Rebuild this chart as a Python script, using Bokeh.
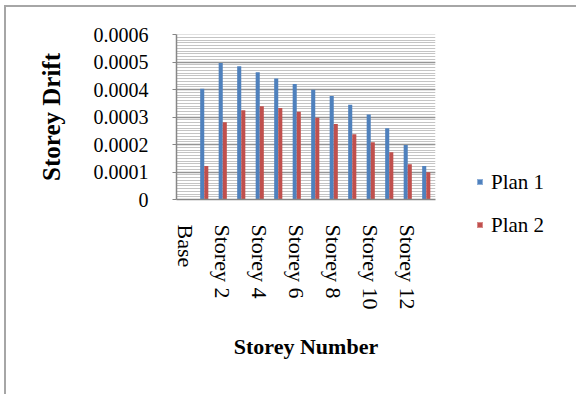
from bokeh.plotting import figure
from bokeh.layouts import row
from bokeh.models import FixedTicker, CustomJSTickFormatter, ColumnDataSource, Div
from bokeh.embed import file_html
from bokeh.resources import INLINE

# Storey drift per level for the two plans
categories = ["Base"] + [f"Storey {i}" for i in range(1, 14)]
plan1 = [0, 0.000403, 0.000496, 0.000485, 0.000463, 0.000440, 0.000420,
         0.000399, 0.000376, 0.000345, 0.000309, 0.000259, 0.000198, 0.000122]
plan2 = [0, 0.000122, 0.000281, 0.000325, 0.000339, 0.000333, 0.000319,
         0.000297, 0.000275, 0.000237, 0.000208, 0.000172, 0.000128, 0.000099]
series_names = ["Plan 1", "Plan 2"]
y_ticks = [0, 0.0001, 0.0002, 0.0003, 0.0004, 0.0005, 0.0006]
x_label_every = 2

SERIF = "Liberation Serif"
COLORS = ["#4F81BD", "#C0504D"]
EDGES = ["#8fb0d9", "#d88c8a"]
AXIS_GREY = "#868686"

centers = [i + 0.5 for i in range(len(categories))]
bar_w = 0.22
src = ColumnDataSource(dict(
    x1=[c - bar_w / 2 for c in centers],
    x2=[c + bar_w / 2 for c in centers],
    plan1=plan1, plan2=plan2,
))

p = figure(width=454, height=388, x_range=(0, len(categories)),
           y_range=(0, y_ticks[-1]), output_backend="svg",
           toolbar_location=None, min_border_left=170, min_border_right=25,
           min_border_top=27, min_border_bottom=196)
p.outline_line_color = None
p.background_fill_color = "white"
p.border_fill_color = "white"

p.vbar(x="x1", top="plan1", width=bar_w, source=src,
       fill_color=COLORS[0], line_color=None)
p.vbar(x="x2", top="plan2", width=bar_w, source=src,
       fill_color=COLORS[1], line_color=None)

# y axis: major every 0.0001, fine minor grid
minor = [k * 0.00001 for k in range(61)]
p.yaxis.ticker = FixedTicker(ticks=y_ticks, minor_ticks=minor)
p.yaxis.formatter = CustomJSTickFormatter(
    code="return tick == 0 ? '0' : tick.toFixed(4);")
p.yaxis.axis_line_color = AXIS_GREY
p.yaxis.axis_line_width = 1.5
p.yaxis.major_tick_line_color = AXIS_GREY
p.yaxis.major_tick_out = 4
p.yaxis.major_tick_in = 0
p.yaxis.minor_tick_line_color = None
p.yaxis.major_label_text_font = SERIF
p.yaxis.major_label_text_font_size = "20px"
p.yaxis.major_label_text_color = "black"
p.yaxis.major_label_standoff = 24
p.yaxis.axis_label = "Storey Drift"
p.yaxis.axis_label_text_font = SERIF
p.yaxis.axis_label_text_font_style = "bold"
p.yaxis.axis_label_text_font_size = "25px"
p.yaxis.axis_label_text_color = "black"
p.yaxis.axis_label_standoff = 26

p.ygrid.grid_line_color = "#959595"
p.ygrid.grid_line_width = 1.6
p.ygrid.minor_grid_line_color = "#c4c4c4"
p.ygrid.minor_grid_line_width = 1
p.xgrid.grid_line_color = None

# x axis: every other storey labelled
p.xaxis.ticker = FixedTicker(ticks=centers[::x_label_every])
p.xaxis.formatter = CustomJSTickFormatter(
    args=dict(names=categories), code="return names[Math.floor(tick)];")
p.xaxis.major_label_orientation = "vertical"
p.xaxis.axis_line_color = AXIS_GREY
p.xaxis.axis_line_width = 1.5
p.xaxis.major_tick_line_color = None
p.xaxis.major_tick_out = 0
p.xaxis.minor_tick_line_color = None
p.xaxis.major_label_text_font = SERIF
p.xaxis.major_label_text_font_size = "22px"
p.xaxis.major_label_text_color = "black"
p.xaxis.major_label_standoff = 25
p.xaxis.axis_label = "Storey Number"
p.xaxis.axis_label_text_font = SERIF
p.xaxis.axis_label_text_font_style = "bold"
p.xaxis.axis_label_text_font_size = "22px"
p.xaxis.axis_label_text_color = "black"
p.xaxis.axis_label_standoff = 22

# legend to the right of the plot
leg_w, leg_h = 116, 388
item_top = [158, 201]
entries = "".join(
    f'<div style="position:absolute;left:12px;top:{t}px;height:24px;'
    f'display:flex;align-items:center;font-family:Liberation Serif,serif;'
    f'font-size:21px;color:black;white-space:nowrap;">'
    f'<span style="display:inline-block;width:6px;height:6px;'
    f'background:{c};border:1px solid {e};margin-right:8px;"></span>'
    f'{name}</div>'
    for t, c, e, name in zip(item_top, COLORS, EDGES, series_names)
)
leg = Div(width=leg_w, height=leg_h,
          text=f'<div style="position:relative;width:{leg_w}px;'
               f'height:{leg_h}px;background:white;">{entries}</div>')

# chart-area border on the left and top edges
layout = row(p, leg, styles={"margin-left": "4px", "margin-top": "5px",
                             "border-left": "2px solid #a6a6a6",
                             "border-top": "2px solid #a6a6a6"})

open("out.html", "w").write(file_html(layout, INLINE))
